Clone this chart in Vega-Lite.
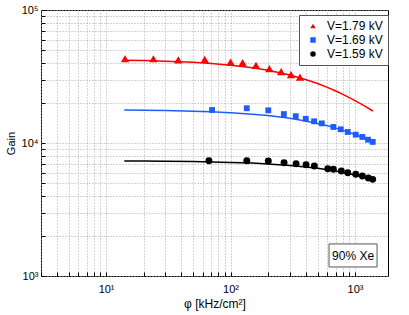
{
  "$schema": "https://vega.github.io/schema/vega-lite/v6.json",
  "width": 347,
  "height": 266,
  "autosize": "none",
  "padding": {"left": 41, "top": 10, "right": 21, "bottom": 39},
  "background": "white",
  "config": {
    "font": "Liberation Sans",
    "view": {"stroke": "black", "strokeWidth": 1},
    "axis": {
      "labelFont": "Liberation Sans",
      "titleFont": "Liberation Sans",
      "labelFontSize": 11,
      "titleFontSize": 11,
      "titleFontWeight": "normal",
      "labelColor": "black",
      "titleColor": "black",
      "domain": false,
      "ticks": true,
      "tickSize": -4,
      "tickColor": "black",
      "grid": true,
      "gridColor": "#a8a8a8",
      "gridDash": [1, 2],
      "gridWidth": 1
    },
    "legend": {
      "labelFont": "Liberation Sans",
      "labelFontSize": 12,
      "labelColor": "black"
    }
  },
  "datasets": {
    "pts": [
      {"series": "V=1.79 kV", "phi": 14.2, "gain": 43000},
      {"series": "V=1.79 kV", "phi": 24, "gain": 43000},
      {"series": "V=1.79 kV", "phi": 38, "gain": 42100},
      {"series": "V=1.79 kV", "phi": 62, "gain": 42600},
      {"series": "V=1.79 kV", "phi": 100, "gain": 40600},
      {"series": "V=1.79 kV", "phi": 125, "gain": 40200},
      {"series": "V=1.79 kV", "phi": 160, "gain": 38400},
      {"series": "V=1.79 kV", "phi": 205, "gain": 36200},
      {"series": "V=1.79 kV", "phi": 255, "gain": 34400},
      {"series": "V=1.79 kV", "phi": 306, "gain": 32600},
      {"series": "V=1.79 kV", "phi": 361, "gain": 31300},
      {"series": "V=1.69 kV", "phi": 71, "gain": 17700},
      {"series": "V=1.69 kV", "phi": 135, "gain": 18250},
      {"series": "V=1.69 kV", "phi": 201, "gain": 17600},
      {"series": "V=1.69 kV", "phi": 268, "gain": 16500},
      {"series": "V=1.69 kV", "phi": 334, "gain": 15900},
      {"series": "V=1.69 kV", "phi": 402, "gain": 15200},
      {"series": "V=1.69 kV", "phi": 469, "gain": 14550},
      {"series": "V=1.69 kV", "phi": 541, "gain": 14050},
      {"series": "V=1.69 kV", "phi": 670, "gain": 13200},
      {"series": "V=1.69 kV", "phi": 768, "gain": 12680},
      {"series": "V=1.69 kV", "phi": 874, "gain": 12100},
      {"series": "V=1.69 kV", "phi": 1013, "gain": 11550},
      {"series": "V=1.69 kV", "phi": 1145, "gain": 11100},
      {"series": "V=1.69 kV", "phi": 1271, "gain": 10590},
      {"series": "V=1.69 kV", "phi": 1387, "gain": 10190},
      {"series": "V=1.59 kV", "phi": 67, "gain": 7360},
      {"series": "V=1.59 kV", "phi": 135, "gain": 7360},
      {"series": "V=1.59 kV", "phi": 201, "gain": 7320},
      {"series": "V=1.59 kV", "phi": 269, "gain": 7110},
      {"series": "V=1.59 kV", "phi": 336, "gain": 6990},
      {"series": "V=1.59 kV", "phi": 404, "gain": 6870},
      {"series": "V=1.59 kV", "phi": 471, "gain": 6710},
      {"series": "V=1.59 kV", "phi": 604, "gain": 6410},
      {"series": "V=1.59 kV", "phi": 670, "gain": 6340},
      {"series": "V=1.59 kV", "phi": 776, "gain": 6160},
      {"series": "V=1.59 kV", "phi": 874, "gain": 5980},
      {"series": "V=1.59 kV", "phi": 1013, "gain": 5820},
      {"series": "V=1.59 kV", "phi": 1145, "gain": 5650},
      {"series": "V=1.59 kV", "phi": 1279, "gain": 5460},
      {"series": "V=1.59 kV", "phi": 1387, "gain": 5330}
    ],
    "fit": [
      {"series": "V=1.79 kV", "phi": 14, "gain": 41890},
      {"series": "V=1.79 kV", "phi": 20, "gain": 41640},
      {"series": "V=1.79 kV", "phi": 30, "gain": 41210},
      {"series": "V=1.79 kV", "phi": 50, "gain": 40400},
      {"series": "V=1.79 kV", "phi": 70, "gain": 39620},
      {"series": "V=1.79 kV", "phi": 100, "gain": 38500},
      {"series": "V=1.79 kV", "phi": 150, "gain": 36770},
      {"series": "V=1.79 kV", "phi": 200, "gain": 35190},
      {"series": "V=1.79 kV", "phi": 300, "gain": 32410},
      {"series": "V=1.79 kV", "phi": 400, "gain": 30030},
      {"series": "V=1.79 kV", "phi": 500, "gain": 27980},
      {"series": "V=1.79 kV", "phi": 600, "gain": 26190},
      {"series": "V=1.79 kV", "phi": 700, "gain": 24610},
      {"series": "V=1.79 kV", "phi": 800, "gain": 23210},
      {"series": "V=1.79 kV", "phi": 1000, "gain": 20850},
      {"series": "V=1.79 kV", "phi": 1200, "gain": 18920},
      {"series": "V=1.79 kV", "phi": 1390, "gain": 17400},
      {"series": "V=1.69 kV", "phi": 14, "gain": 17670},
      {"series": "V=1.69 kV", "phi": 20, "gain": 17610},
      {"series": "V=1.69 kV", "phi": 30, "gain": 17520},
      {"series": "V=1.69 kV", "phi": 50, "gain": 17330},
      {"series": "V=1.69 kV", "phi": 70, "gain": 17150},
      {"series": "V=1.69 kV", "phi": 100, "gain": 16890},
      {"series": "V=1.69 kV", "phi": 150, "gain": 16470},
      {"series": "V=1.69 kV", "phi": 200, "gain": 16070},
      {"series": "V=1.69 kV", "phi": 300, "gain": 15330},
      {"series": "V=1.69 kV", "phi": 400, "gain": 14650},
      {"series": "V=1.69 kV", "phi": 500, "gain": 14030},
      {"series": "V=1.69 kV", "phi": 600, "gain": 13460},
      {"series": "V=1.69 kV", "phi": 700, "gain": 12940},
      {"series": "V=1.69 kV", "phi": 800, "gain": 12450},
      {"series": "V=1.69 kV", "phi": 1000, "gain": 11580},
      {"series": "V=1.69 kV", "phi": 1200, "gain": 10820},
      {"series": "V=1.69 kV", "phi": 1390, "gain": 10190},
      {"series": "V=1.59 kV", "phi": 14, "gain": 7320},
      {"series": "V=1.59 kV", "phi": 20, "gain": 7310},
      {"series": "V=1.59 kV", "phi": 30, "gain": 7290},
      {"series": "V=1.59 kV", "phi": 50, "gain": 7250},
      {"series": "V=1.59 kV", "phi": 70, "gain": 7210},
      {"series": "V=1.59 kV", "phi": 100, "gain": 7150},
      {"series": "V=1.59 kV", "phi": 150, "gain": 7060},
      {"series": "V=1.59 kV", "phi": 200, "gain": 6960},
      {"series": "V=1.59 kV", "phi": 300, "gain": 6780},
      {"series": "V=1.59 kV", "phi": 400, "gain": 6610},
      {"series": "V=1.59 kV", "phi": 500, "gain": 6450},
      {"series": "V=1.59 kV", "phi": 600, "gain": 6300},
      {"series": "V=1.59 kV", "phi": 700, "gain": 6150},
      {"series": "V=1.59 kV", "phi": 800, "gain": 6010},
      {"series": "V=1.59 kV", "phi": 1000, "gain": 5750},
      {"series": "V=1.59 kV", "phi": 1200, "gain": 5510},
      {"series": "V=1.59 kV", "phi": 1390, "gain": 5300}
    ],
    "note": [
      {"label": "90% Xe", "x1": 618, "x2": 1503, "y1": 1169, "y2": 1742, "xc": 964, "yc": 1425}
    ]
  },
  "layer": [
    {
      "data": {"name": "fit"},
      "transform": [{"filter": "datum.series == 'V=1.79 kV'"}],
      "mark": {"type": "line", "strokeWidth": 1.5, "clip": true, "color": "#ff0000"},
      "encoding": {
        "x": {
          "field": "phi", "type": "quantitative",
          "scale": {"type": "log", "domain": [3, 1840], "nice": false},
          "axis": {
            "title": "φ [kHz/cm²]",
            "titleFontSize": 12,
            "values": [3,4,5,6,7,8,9,10,20,30,40,50,60,70,80,90,100,200,300,400,500,600,700,800,900,1000],
            "labelExpr": "datum.value == 10 ? '10¹' : datum.value == 100 ? '10²' : datum.value == 1000 ? '10³' : ''",
            "labelPadding": 11,
            "titlePadding": 4,
            "labelFlush": false,
            "labelOverlap": false
          }
        },
        "y": {
          "field": "gain", "type": "quantitative",
          "scale": {"type": "log", "domain": [1000, 100000], "nice": false},
          "axis": {
            "title": "Gain",
            "values": [1000,2000,3000,4000,5000,6000,7000,8000,9000,10000,20000,30000,40000,50000,60000,70000,80000,90000,100000],
            "labelExpr": "datum.value == 1000 ? '10³' : datum.value == 10000 ? '10⁴' : datum.value == 100000 ? '10⁵' : ''",
            "labelPadding": 7,
            "titlePadding": 5,
            "labelFlush": false,
            "labelOverlap": false
          }
        }
      }
    },
    {
      "data": {"name": "fit"},
      "transform": [{"filter": "datum.series == 'V=1.69 kV'"}],
      "mark": {"type": "line", "strokeWidth": 1.5, "clip": true, "color": "#1f5cff"},
      "encoding": {
        "x": {"field": "phi", "type": "quantitative"},
        "y": {"field": "gain", "type": "quantitative"}
      }
    },
    {
      "data": {"name": "fit"},
      "transform": [{"filter": "datum.series == 'V=1.59 kV'"}],
      "mark": {"type": "line", "strokeWidth": 1.5, "clip": true, "color": "#000000"},
      "encoding": {
        "x": {"field": "phi", "type": "quantitative"},
        "y": {"field": "gain", "type": "quantitative"}
      }
    },
    {
      "data": {"name": "pts"},
      "transform": [{"filter": "datum.series == 'V=1.79 kV'"}],
      "mark": {"type": "point", "filled": true, "opacity": 1, "size": 70},
      "encoding": {
        "x": {"field": "phi", "type": "quantitative"},
        "y": {"field": "gain", "type": "quantitative"},
        "color": {
          "field": "series", "type": "nominal",
          "scale": {"domain": ["V=1.79 kV", "V=1.69 kV", "V=1.59 kV"], "range": ["#ff0000", "#1f5cff", "#000000"]},
          "legend": {
            "title": null,
            "orient": "none",
            "legendX": 258,
            "legendY": 5,
            "strokeColor": "#555555",
            "fillColor": "white",
            "padding": 5,
            "rowPadding": 2,
            "symbolSize": 30,
            "labelOffset": 8,
            "symbolOffset": 3
          }
        },
        "shape": {
          "field": "series", "type": "nominal",
          "scale": {"domain": ["V=1.79 kV", "V=1.69 kV", "V=1.59 kV"], "range": ["triangle-up", "square", "circle"]}
        }
      }
    },
    {
      "data": {"name": "pts"},
      "transform": [{"filter": "datum.series == 'V=1.69 kV'"}],
      "mark": {"type": "point", "filled": true, "opacity": 1, "size": 34},
      "encoding": {
        "x": {"field": "phi", "type": "quantitative"},
        "y": {"field": "gain", "type": "quantitative"},
        "color": {"field": "series", "type": "nominal"},
        "shape": {"field": "series", "type": "nominal"}
      }
    },
    {
      "data": {"name": "pts"},
      "transform": [{"filter": "datum.series == 'V=1.59 kV'"}],
      "mark": {"type": "point", "filled": true, "opacity": 1, "size": 48},
      "encoding": {
        "x": {"field": "phi", "type": "quantitative"},
        "y": {"field": "gain", "type": "quantitative"},
        "color": {"field": "series", "type": "nominal"},
        "shape": {"field": "series", "type": "nominal"}
      }
    },
    {
      "data": {"name": "note"},
      "mark": {"type": "rect", "fill": "white", "stroke": "#555555", "strokeWidth": 1},
      "encoding": {
        "x": {"field": "x1", "type": "quantitative"},
        "x2": {"field": "x2"},
        "y": {"field": "y1", "type": "quantitative"},
        "y2": {"field": "y2"}
      }
    },
    {
      "data": {"name": "note"},
      "mark": {"type": "text", "fontSize": 12, "font": "Liberation Sans", "color": "black"},
      "encoding": {
        "x": {"field": "xc", "type": "quantitative"},
        "y": {"field": "yc", "type": "quantitative"},
        "text": {"field": "label"}
      }
    }
  ]
}
